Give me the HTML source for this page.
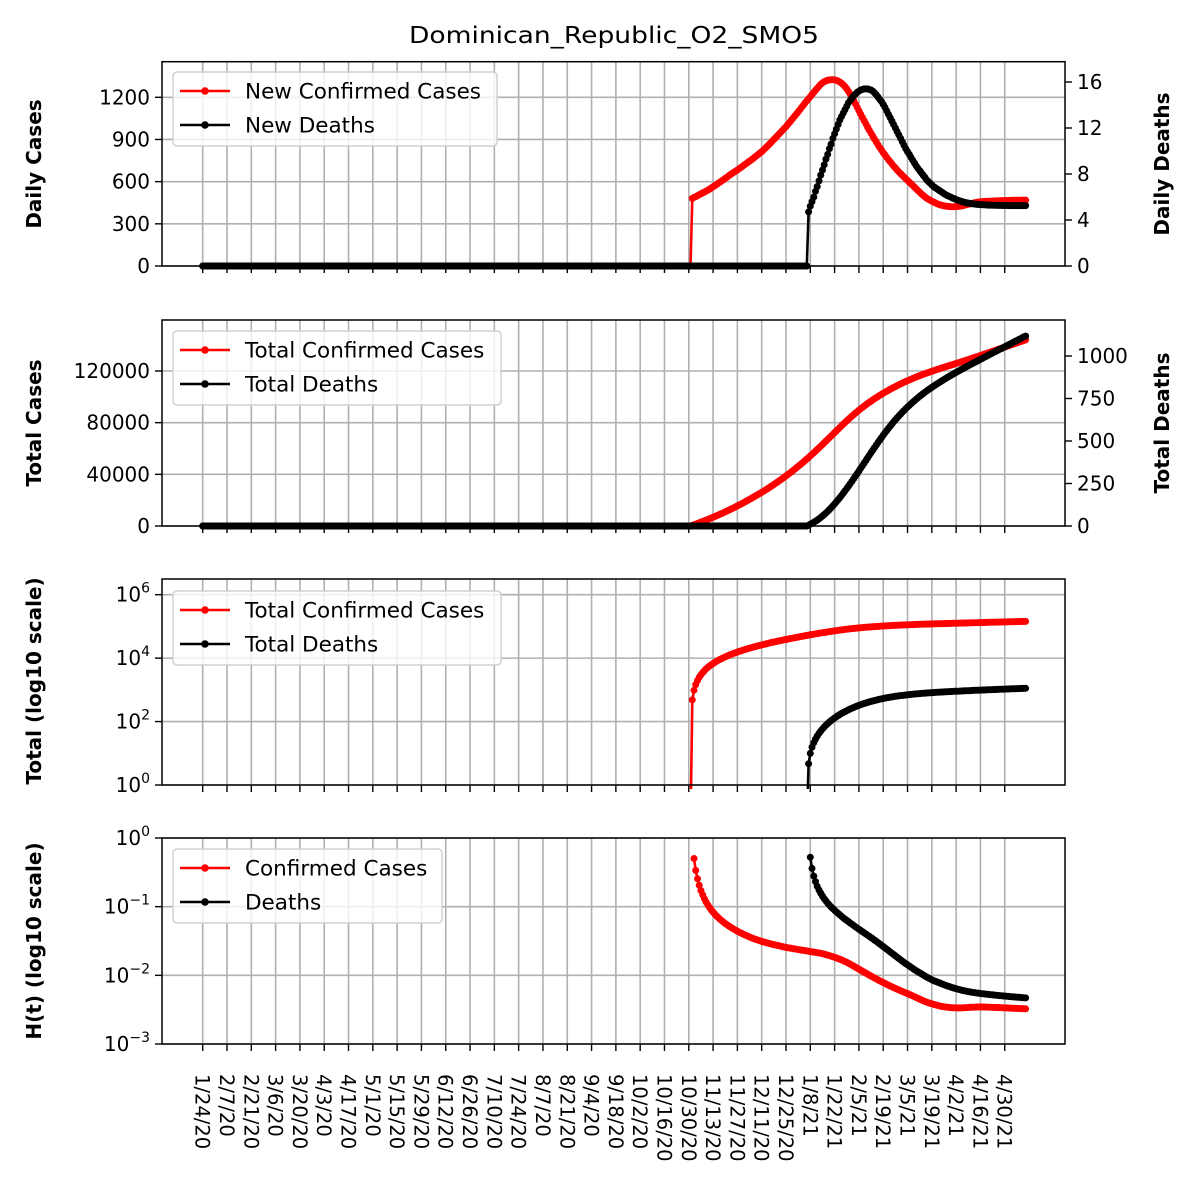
<!DOCTYPE html>
<html><head><meta charset="utf-8"><style>
html,body{margin:0;padding:0;background:#fff;}
svg{display:block;font-family:"DejaVu Sans","Liberation Sans",sans-serif;}
</style></head><body>
<svg id="chart" width="1200" height="1200" viewBox="0 0 1200 1200" xmlns="http://www.w3.org/2000/svg">
<text x="614" y="43" font-size="23" text-anchor="middle" textLength="410" lengthAdjust="spacingAndGlyphs">Dominican_Republic_O2_SMO5</text>
</svg>
<script>
// ---- data ----
const xTickLabels=["1/24/20","2/7/20","2/21/20","3/6/20","3/20/20","4/3/20","4/17/20","5/1/20","5/15/20","5/29/20","6/12/20","6/26/20","7/10/20","7/24/20","8/7/20","8/21/20","9/4/20","9/18/20","10/2/20","10/16/20","10/30/20","11/13/20","11/27/20","12/11/20","12/25/20","1/8/21","1/22/21","2/5/21","2/19/21","3/5/21","3/19/21","4/2/21","4/16/21","4/30/21"];
const lastDay=474;
const casesStartDay=282;
const deathsStartDay=349;
const newCases=[481,488,494,500,507,513,520,526,533,540,547,555,564,
572,580,589,597,606,614,623,632,641,650,659,667,675,683,
692,701,710,719,728,737,746,755,764,774,784,794,804,814,825,
837,849,861,874,887,900,913,926,939,952,965,978,991,
1006,1021,1036,1051,1066,1081,1096,1112,1128,1144,1160,1175,1190,1204,
1220,1235,1250,1264,1278,1292,1303,
1311,1317,1321,1324,1325,1325,1324,
1321,1316,1309,1300,1289,1276,1260,1242,1222,
1200,1177,1153,1129,1105,1081,1057,1034,1011,
988,966,944,923,902,882,862,843,825,
807,790,773,757,741,726,711,697,683,670,
657,645,633,621,609,597,585,573,561,549,537,525,
513,502,492,483,475,468,461,455,449,443,438,434,
431,428,426,424,423,422,422,422,423,424,425,
427,430,433,436,439,442,445,448,451,453,455,457,
458,459,460,461,461,462,462,463,463,464,464,465,465,465,466,466,466,467,467,467,468,468,468,469,469,469];
const newDeaths=[4.7,5.2,5.6,6.0,6.5,6.9,7.4,7.9,8.35,
8.8,9.3,9.7,10.2,10.6,11.1,11.5,11.9,12.3,12.7,
13.0,13.3,13.6,13.9,14.2,14.4,14.6,14.8,
14.95,15.1,15.2,15.3,15.35,15.4,15.4,15.4,
15.35,15.3,15.2,15.05,14.9,14.7,14.5,14.3,14.05,
13.8,13.5,13.2,12.9,12.6,12.3,12.0,11.7,11.4,
11.1,10.8,10.5,10.2,9.95,9.7,9.45,9.2,8.95,8.7,
8.5,8.3,8.1,7.9,7.7,7.5,7.35,7.2,7.05,6.9,
6.8,6.7,6.6,6.5,6.4,6.3,6.2,6.12,6.05,5.98,5.9,
5.84,5.78,5.72,5.67,5.62,5.57,5.53,5.5,5.47,5.44,5.42,5.4,
5.38,5.36,5.35,5.34,5.33,5.32,5.31,5.3,5.3,5.29,5.29,5.28,5.28,5.27,5.27,5.27,5.26,5.26,5.26,5.26,5.25,5.25,5.25,5.25,5.25,5.25,5.25,5.25,5.25,5.25];
const p1LeftTicks=[0,300,600,900,1200];
const p1RightTicks=[0,4,8,12,16];
const p2LeftTicks=[0,40000,80000,120000];
const p2RightTicks=[0,250,500,750,1000];
const p3Exps=[0,2,4,6];
const p4Exps=[0,-1,-2,-3];

// ---- derived series ----
function full(arr,start){const o=[];for(let d=0;d<=lastDay;d++){o.push(d<start?0:arr[d-start]);}return o;}
const dailyC=full(newCases,casesStartDay), dailyD=full(newDeaths,deathsStartDay);
function cum(a){let s=0;return a.map(v=>s+=v);}
const totC=cum(dailyC), totD=cum(dailyD);

const NS="http://www.w3.org/2000/svg";
const svg=document.getElementById('chart');
function el(tag,attrs,parent,text){const e=document.createElementNS(NS,tag);for(const k in attrs)e.setAttribute(k,attrs[k]);if(text!==undefined)e.textContent=text;(parent||svg).appendChild(e);return e;}

const XL=162,XR=1065;
const x=d=>202.7+d*1.736;
const panels=[{top:61.7,bot:266},{top:320,bot:526},{top:579,bot:785},{top:838,bot:1044}];
const p1L=v=>266-v*0.14058, p1R=v=>266-v*11.5;
const p2L=v=>526-v*155/120000, p2R=v=>526-v*0.17;
const p3=v=>785-Math.log10(v)*31.72;
const p4=v=>838-Math.log10(v)*68.67;

const defs=el('defs',{});
panels.forEach((p,i)=>{const c=el('clipPath',{id:'clip'+i},defs);el('rect',{x:XL,y:p.top-4,width:XR-XL,height:p.bot-p.top+8},c);});

function grid(i,ys){
  const p=panels[i];
  const g=el('g',{});
  
  
  for(let k=0;k<xTickLabels.length;k++){const xx=x(k*14);el('line',{x1:xx,x2:xx,y1:p.top,y2:p.bot,stroke:'#b0b0b0','stroke-width':1.6},g);
    el('line',{x1:xx,x2:xx,y1:p.bot,y2:p.bot+7,stroke:'#000','stroke-width':1.4},g);}
  ys.forEach(y=>el('line',{x1:XL,x2:XR,y1:y,y2:y,stroke:'#b0b0b0','stroke-width':1.6},g));
}
function series(i,ys,color,name,from){
  const g=el('g',{'clip-path':'url(#clip'+i+')'});
  
  
  let d='';let started=false;
  ys.forEach((v,k)=>{if(k<from||v===null)return;d+=(started?'L':'M')+x(k).toFixed(1)+' '+v.toFixed(1);started=true;});
  el('path',{d:d,fill:'none',stroke:color,'stroke-width':2.6,'stroke-linejoin':'round'},g);
  ys.forEach((v,k)=>{if(k<from||v===null||!isFinite(v))return;if(v>1100)return;el('circle',{cx:x(k).toFixed(1),cy:v.toFixed(1),r:3.5,fill:color},g);});
  return g;
}
function yTicks(i,side,items){
  const g=el('g',{});
  
  
  items.forEach(([y,lab,exp])=>{
    const x0=side<0?XL:XR;
    el('line',{x1:x0,x2:x0+side*7,y1:y,y2:y,stroke:'#000','stroke-width':1.4},g);
    const t=el('text',{x:x0+side*12,y:y+7,'font-size':20,'text-anchor':side<0?'end':'start'},g,lab);
    if(exp!==undefined){el('tspan',{'font-size':14,dy:-9},t,exp);}
  });
}
function spine(i){const p=panels[i];const r=el('rect',{x:XL,y:p.top,width:XR-XL,height:p.bot-p.top,fill:'none',stroke:'#000','stroke-width':1.5});
  
  }
function ylabel(xc,yc,txt,name,rot){const t=el('text',{x:xc,y:yc,'font-size':20,'font-weight':'bold','text-anchor':'middle',transform:'rotate('+rot+' '+xc+' '+yc+')'},svg,txt);
  
  }
function legend(i,x0,y0,w,items){
  const g=el('g',{});
  
  
  el('rect',{x:x0,y:y0,width:w,height:74,rx:4,fill:'rgba(255,255,255,0.8)',stroke:'#d0d0d0','stroke-width':1.5},g);
  items.forEach(([c,lab],k)=>{const yy=y0+19+k*34;
    const e=el('g',{},g);
    
    
    el('line',{x1:x0+7,x2:x0+57,y1:yy,y2:yy,stroke:c,'stroke-width':2.6},e);
    el('circle',{cx:x0+32,cy:yy,r:3.8,fill:c},e);
    el('text',{x:x0+72,y:yy+7.5,'font-size':21.5},e,lab);});
}

// Panel 1
grid(0,p1LeftTicks.map(p1L));
series(0,dailyC.map(p1L),'#ff0000','new-cases-line',0);
series(0,dailyD.map(p1R),'#000000','new-deaths-line',0);
spine(0);
yTicks(0,-1,p1LeftTicks.map(v=>[p1L(v),String(v)]));
yTicks(0,1,p1RightTicks.map(v=>[p1R(v),String(v)]));
legend(0,173,72,324,[['#ff0000','New Confirmed Cases'],['#000','New Deaths']]);
ylabel(41,164,'Daily Cases','y-axis-title-daily-cases',-90);
ylabel(1169,164,'Daily Deaths','y-axis-title-daily-deaths',-90);

// Panel 2
grid(1,p2LeftTicks.map(p2L));
series(1,totC.map(p2L),'#ff0000','total-cases-line',0);
series(1,totD.map(p2R),'#000000','total-deaths-line',0);
spine(1);
yTicks(1,-1,p2LeftTicks.map(v=>[p2L(v),String(v)]));
yTicks(1,1,p2RightTicks.map(v=>[p2R(v),String(v)]));
legend(1,173,331,328,[['#ff0000','Total Confirmed Cases'],['#000','Total Deaths']]);
ylabel(41,423,'Total Cases','y-axis-title-total-cases',-90);
ylabel(1169,423,'Total Deaths','y-axis-title-total-deaths',-90);

// Panel 3
grid(2,p3Exps.map(e=>p3(Math.pow(10,e))));
function logSeries(arr,start,f){return arr.map((v,k)=>k<start-1?null:(v>0?f(v):panels[2].bot+40));}
series(2,logSeries(totC,casesStartDay,p3),'#ff0000','total-cases-log-line',casesStartDay-1);
series(2,logSeries(totD,deathsStartDay,p3),'#000000','total-deaths-log-line',deathsStartDay-1);
spine(2);
yTicks(2,-1,p3Exps.map(e=>[p3(Math.pow(10,e)),'10',String(e)]));
legend(2,173,591,328,[['#ff0000','Total Confirmed Cases'],['#000','Total Deaths']]);
ylabel(41,681,'Total (log10 scale)','y-axis-title-total-log',-90);

// Panel 4
grid(3,p4Exps.map(e=>p4(Math.pow(10,e))));
const hC=dailyC.map((v,k)=>totC[k]>0?p4(v/totC[k]):null);
const hD=dailyD.map((v,k)=>totD[k]>0?p4(v/totD[k]):null);
series(3,hC,'#ff0000','h-cases-line',casesStartDay+1);
series(3,hD,'#000000','h-deaths-line',deathsStartDay+1);
spine(3);
yTicks(3,-1,p4Exps.map(e=>[p4(Math.pow(10,e)),'10',e<0?'\u2212'+(-e):String(e)]));
legend(3,173,849,269,[['#ff0000','Confirmed Cases'],['#000','Deaths']]);
ylabel(41,941,'H(t) (log10 scale)','y-axis-title-h-log',-90);

// x tick labels
const xg=el('g',{});


xTickLabels.forEach((lab,k)=>{const xx=x(k*14)-7;el('text',{x:xx,y:1074,'font-size':19.5,transform:'rotate(90 '+xx+' 1074)'},xg,lab);});
</script>
</body></html>
